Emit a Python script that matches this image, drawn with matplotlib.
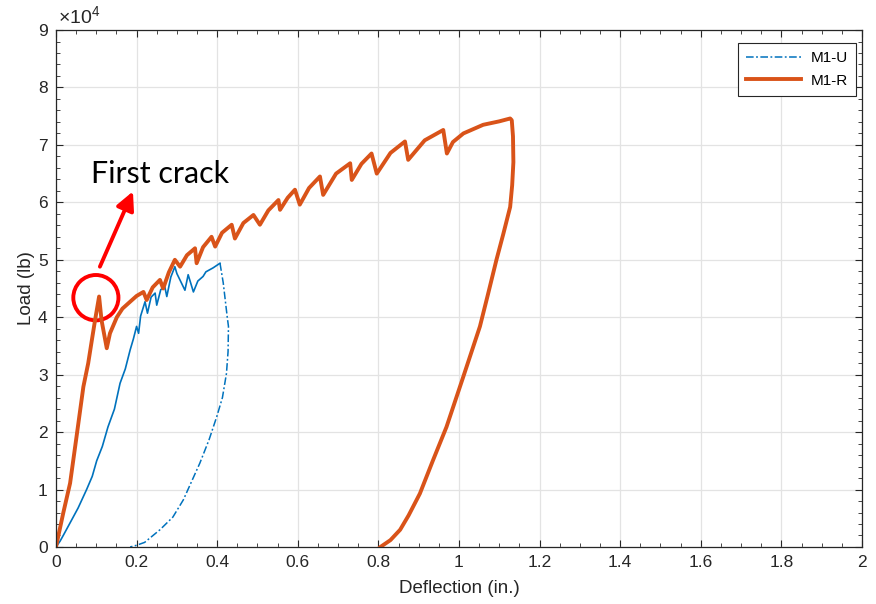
import matplotlib
matplotlib.use("Agg")
import matplotlib.pyplot as plt
from matplotlib.patches import Ellipse
from matplotlib.ticker import MultipleLocator, FuncFormatter

plt.rcParams["font.family"] = ["Liberation Sans", "DejaVu Sans"]
plt.rcParams["mathtext.fontset"] = "custom"
plt.rcParams["mathtext.rm"] = "Liberation Sans"

# M1-U : unreinforced, load-deflection (in., lb)
# loading branch up to the peak
u_load_defl = [0, 0.010, 0.018, 0.035, 0.055, 0.076, 0.090, 0.101, 0.115,
               0.129, 0.145, 0.159, 0.172, 0.184, 0.192, 0.200, 0.205, 0.210,
               0.221, 0.227, 0.236, 0.246, 0.250, 0.260, 0.270, 0.275, 0.285,
               0.295, 0.300, 0.320, 0.328, 0.341, 0.352, 0.365, 0.372, 0.390,
               0.407]
u_load_load = [0, 1000, 2000, 4200, 6800, 10000, 12300, 15000, 17500, 20900,
               24000, 28500, 31000, 34300, 36200, 38400, 37200, 40200, 42700,
               40700, 43500, 44200, 42100, 44800, 45300, 43600, 47000, 48800,
               47600, 44700, 47400, 44400, 46300, 47100, 47900, 48600, 49400]
# unloading branch
u_unl_defl = [0.407, 0.415, 0.420, 0.425, 0.428, 0.427, 0.423, 0.413, 0.399,
              0.380, 0.357, 0.316, 0.290, 0.258, 0.220, 0.200, 0.184]
u_unl_load = [49400, 46000, 43000, 40000, 38400, 34000, 30200, 26000, 22700,
              18700, 14600, 8200, 5200, 3000, 800, 300, 0]

# M1-R : retrofitted
r_defl = [0, 0.018, 0.035, 0.051, 0.068, 0.080, 0.089, 0.097, 0.107, 0.113,
          0.126, 0.134, 0.151, 0.165, 0.184, 0.200, 0.217, 0.225, 0.240,
          0.258, 0.266, 0.280, 0.295, 0.308, 0.325, 0.345, 0.349, 0.365,
          0.386, 0.395, 0.412, 0.436, 0.444, 0.465, 0.490, 0.506, 0.527,
          0.552, 0.556, 0.575, 0.593, 0.605, 0.628, 0.655, 0.663, 0.695,
          0.730, 0.734, 0.758, 0.783, 0.796, 0.830, 0.866, 0.874, 0.915,
          0.961, 0.970, 0.985, 1.011, 1.060, 1.100, 1.127, 1.131, 1.134,
          1.135, 1.132, 1.127, 1.110, 1.093, 1.072, 1.052, 1.011, 0.969,
          0.935, 0.903, 0.875, 0.854, 0.830, 0.805]
r_load = [0, 5900, 11100, 19200, 27900, 32000, 36000, 39500, 43600, 39500,
          34600, 37200, 40000, 41500, 42700, 43700, 44400, 43000, 45200,
          46500, 45000, 47800, 50000, 48800, 50800, 52000, 49400, 52200,
          54000, 52300, 54700, 56100, 53700, 56400, 57800, 56100, 58600,
          60400, 58700, 60800, 62200, 59600, 62500, 64500, 61300, 65000,
          66800, 63900, 66700, 68500, 65000, 68600, 70600, 67400, 70800,
          72600, 68500, 70500, 72000, 73500, 74100, 74600, 74300, 71500,
          67000, 63000, 59200, 54500, 50000, 44000, 38400, 29700, 20900,
          15000, 9300, 5500, 3000, 1200, 0]

fig = plt.figure(figsize=(8.76, 6.04), dpi=100)
ax = fig.add_axes([0.0639, 0.0944, 0.9201, 0.8559])

blue = "#0072BD"
ax.plot(u_load_defl, u_load_load, color=blue, lw=1.2)
ax.plot(u_unl_defl, u_unl_load, color=blue, lw=1.1,
        ls=(0, (5, 1.6, 1.2, 1.6)), label="M1-U")
ax.plot(r_defl, r_load, color="#D95319", lw=2.8, label="M1-R")

ax.set_xlim(0, 2)
ax.set_ylim(0, 90000)
ax.xaxis.set_major_locator(MultipleLocator(0.2))
ax.xaxis.set_minor_locator(MultipleLocator(0.05))
ax.yaxis.set_major_locator(MultipleLocator(10000))
ax.yaxis.set_minor_locator(MultipleLocator(2000))
ax.xaxis.set_major_formatter(FuncFormatter(lambda v, p: f"{v:g}"))
ax.yaxis.set_major_formatter(FuncFormatter(lambda v, p: f"{v / 1e4:g}"))
ax.tick_params(which="both", direction="in", top=True, right=True,
               colors="#262626", labelsize=12.5, pad=6)
ax.tick_params(which="major", length=5, width=0.8)
ax.tick_params(which="minor", length=3, width=0.6)
ax.grid(True, which="major", color="#e3e3e3", lw=0.9)
ax.set_axisbelow(True)
for s in ax.spines.values():
    s.set_color("#262626")
    s.set_linewidth(0.9)

ax.set_xlabel("Deflection (in.)", fontsize=13.5, color="#262626", labelpad=7)
ax.set_ylabel("Load (lb)", fontsize=13.5, color="#262626", labelpad=2)
ax.text(0.002, 1.004, r"$\times10^{4}$", transform=ax.transAxes, fontsize=14,
        color="#262626", ha="left", va="bottom")

leg = ax.legend(loc="upper right", bbox_to_anchor=(0.9926, 0.9749),
                fontsize=11, fancybox=False, edgecolor="#262626",
                framealpha=1, handlelength=3.6, borderaxespad=0,
                borderpad=0.55, labelspacing=0.55, handletextpad=0.6)
leg.get_frame().set_linewidth(0.8)

# first crack annotation
ax.add_patch(Ellipse((0.099, 43400), 0.112, 7900, fill=False,
                     edgecolor="#ff0000", lw=2.8))
ax.annotate("", xy=(0.191, 61900), xytext=(0.109, 48800),
            arrowprops=dict(arrowstyle="-|>,head_length=1.1,head_width=0.55",
                            color="#ff0000", lw=2.8, shrinkA=0, shrinkB=0))
ax.text(0.088, 63400, "First crack", fontsize=22, family=["Lato", "DejaVu Sans"],
        color="black", ha="left", va="baseline")

fig.savefig("out.png", dpi=100)
